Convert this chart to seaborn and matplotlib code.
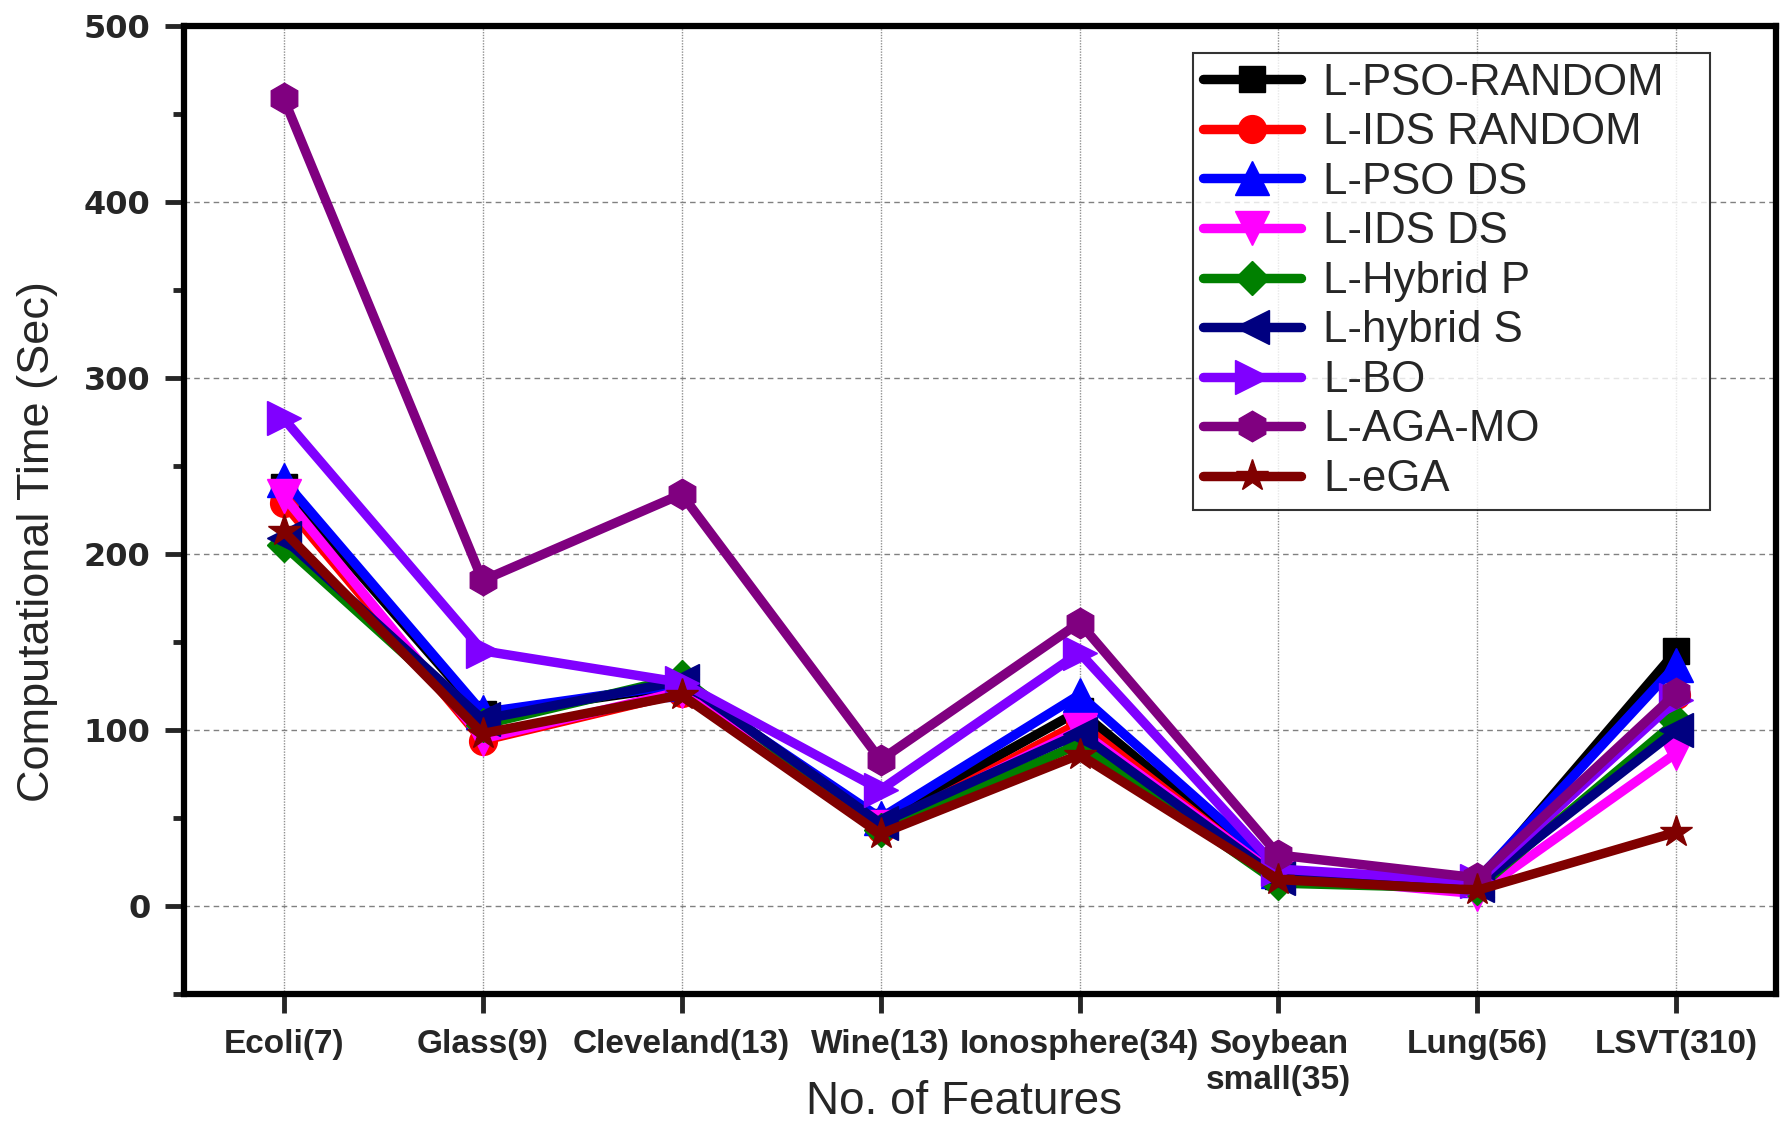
import numpy as np
import pandas as pd
import matplotlib
matplotlib.use("Agg")
import matplotlib.pyplot as plt
from matplotlib.ticker import MultipleLocator
import seaborn as sns

# Datasets (number of features in brackets)
categories = ["Ecoli(7)", "Glass(9)", "Cleveland(13)", "Wine(13)", "Ionosphere(34)",
              "Soybean\nsmall(35)", "Lung(56)", "LSVT(310)"]

# Computational time (sec) per method
pso_random = [238, 109, 125, 48, 111, 17, 13, 145]
ids_random = [229, 94, 121, 44, 104, 16, 12, 120]
pso_ds = [242, 110, 126, 50, 120, 20, 15, 137]
ids_ds = [233, 95, 122, 45, 100, 17, 7, 87]
hybrid_p = [205, 103, 130, 43, 92, 13, 10, 105]
hybrid_s = [209, 106, 128, 47, 98, 16, 12, 100]
bo = [277, 145, 127, 66, 144, 21, 14, 117]
aga_mo = [459, 185, 234, 83, 161, 29, 16, 121]
ega = [213, 98, 120, 41, 86, 15, 9, 42]

series_names = ["L-PSO-RANDOM", "L-IDS RANDOM", "L-PSO DS", "L-IDS DS", "L-Hybrid P",
                "L-hybrid S", "L-BO", "L-AGA-MO", "L-eGA"]
series_values = [pso_random, ids_random, pso_ds, ids_ds, hybrid_p, hybrid_s, bo, aga_mo, ega]
colors = ["#000000", "#FF0000", "#0000FF", "#FF00FF", "#008000",
          "#000080", "#8000FF", "#800080", "#800000"]
markers = ["s", "o", "^", "v", "D", "<", ">", "h", "*"]
msizes = [19, 20, 24, 24, 17, 24, 24, 22, 24]

sns.set_style("white")
plt.rcParams["font.family"] = ["Liberation Sans", "DejaVu Sans"]

fig = plt.figure(figsize=(17.82, 11.26), dpi=100)
ax = fig.add_axes([0.1033, 0.1172, 0.8933, 0.8597])

xpos = np.arange(len(categories))
handles = []
for name, vals, c, m, ms in zip(series_names, series_values, colors, markers, msizes):
    df = pd.DataFrame({"x": xpos, "y": vals})
    sns.lineplot(data=df, x="x", y="y", ax=ax, color=c, linewidth=6.8,
                 marker=m, markersize=ms, markeredgecolor=c, markeredgewidth=1,
                 legend=False, zorder=3)
    handles.append(ax.lines[-1])

ax.set_xlim(-0.5, len(categories) - 0.5)
ax.set_ylim(-50, 500)
ax.set_xticks(xpos)
ax.set_xticklabels(categories, fontsize=24, fontweight="bold", fontfamily="Liberation Sans")
ax.yaxis.set_major_locator(MultipleLocator(100))
ax.yaxis.set_minor_locator(MultipleLocator(50))
for lab in ax.get_yticklabels():
    lab.set_fontfamily("DejaVu Sans")
    lab.set_fontweight("heavy")
    lab.set_fontsize(23)

ax.tick_params(axis="y", which="major", direction="out", length=14, width=3.5, pad=10, left=True)
ax.tick_params(axis="y", which="minor", direction="out", length=8, width=3.5, left=True)
ax.tick_params(axis="x", which="major", direction="out", length=14, width=3.5, pad=11, bottom=True)

for sp in ax.spines.values():
    sp.set_linewidth(4.5)
    sp.set_color("black")

ax.grid(True, axis="y", which="major", color="#808080", linestyle=(0, (4, 3)), linewidth=1.0, zorder=0)
ax.grid(True, axis="x", which="major", color="#909090", linestyle=(0, (1, 1)), linewidth=1.0, zorder=0)
ax.set_axisbelow(True)

ax.set_xlabel("No. of Features", fontsize=33, fontfamily="Liberation Sans")
ax.xaxis.set_label_coords(0.49, -0.1116)
ax.xaxis.label.set_va("center")
ax.set_ylabel("Computational Time (Sec)", fontsize=32.5, fontfamily="Liberation Sans")
ax.yaxis.set_label_coords(-0.0923, 0.467)
ax.yaxis.label.set_va("center")

# widest entry gets some trailing room so the frame sits wide of the text
legend_labels = [series_names[0] + "   "] + series_names[1:]
leg = ax.legend(handles, legend_labels, loc="upper right", bbox_to_anchor=(0.9585, 0.972),
                borderaxespad=0, prop={"family": "Liberation Sans", "size": 31.5},
                frameon=True, fancybox=False, edgecolor="black",
                handlelength=2.25, handletextpad=0.5, labelspacing=0.195,
                borderpad=0.22)
leg.get_frame().set_linewidth(1.5)

fig.savefig("out.png", dpi=100)
